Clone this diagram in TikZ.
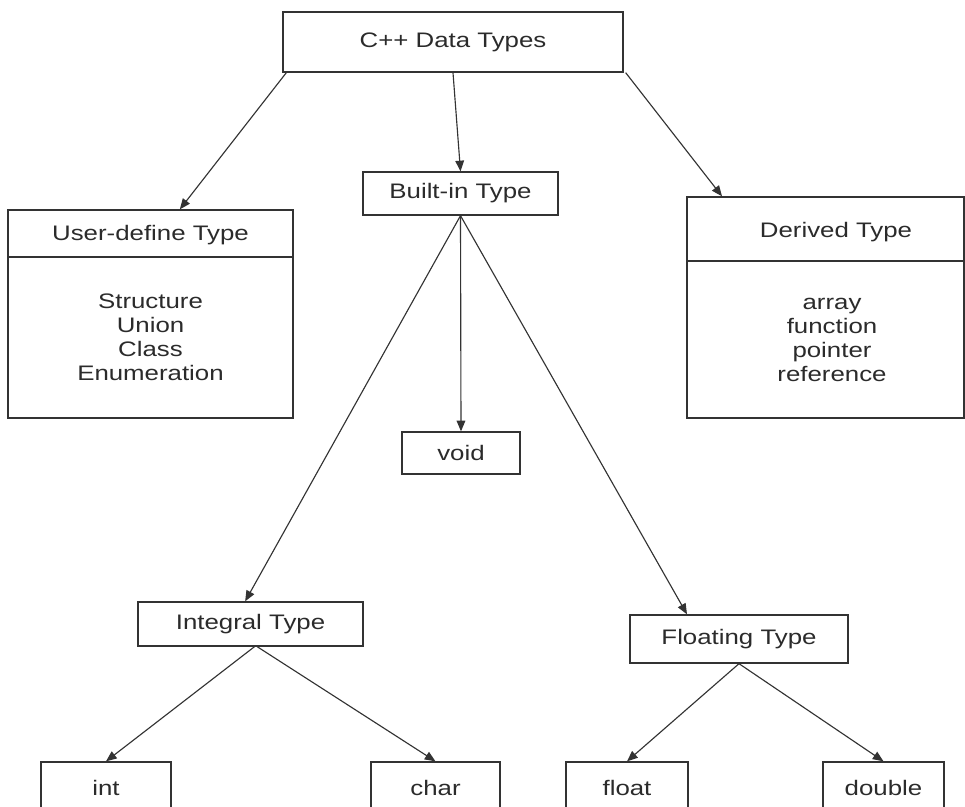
\documentclass[tikz,border=0pt]{standalone}
\usepackage{fontspec}
\setmainfont[FakeStretch=1.23]{Liberation Sans}
\usetikzlibrary{arrows.meta}
\definecolor{ln}{HTML}{333333}
\definecolor{tx}{HTML}{2B2B2B}
\begin{document}
\begin{tikzpicture}[x=0.75pt,y=-0.75pt,
  box/.style={draw=ln,line width=1pt,fill=white,inner sep=0pt,text=tx,
    font=\fontsize{15.75}{18}\selectfont},
  lbl/.style={inner sep=0pt,text=tx,align=center,font=\fontsize{15.75}{18}\selectfont},
  conn/.style={draw=ln,line width=0.85pt,-{Triangle[length=8pt,width=6.5pt]}}]
\clip (0,0) rectangle (965,807);
\fill[white] (0,0) rectangle (965,807);

% boxes
\node[box,minimum width=255pt,minimum height=45pt] (top) at (453,42) {C++ Data Types};
\node[box,minimum width=146.25pt,minimum height=32.25pt] (builtin) at (460.5,193.5) {Built-in Type};
\node[box,minimum width=213.75pt,minimum height=156pt] (user) at (150.5,314) {};
\node[box,minimum width=207.75pt,minimum height=165.75pt] (derived) at (825.5,307.5) {};
\node[box,minimum width=88.5pt,minimum height=31.5pt] (void) at (461,453) {void};
\node[box,minimum width=168.75pt,minimum height=33pt] (integral) at (250.5,624) {Integral Type};
\node[box,minimum width=163.5pt,minimum height=36pt] (floating) at (739,639) {Floating Type};
\node[box,minimum width=97.5pt,minimum height=39pt] (int) at (106,788) {int};
\node[box,minimum width=96.75pt,minimum height=39pt] (char) at (435.5,788) {char};
\node[box,minimum width=91.5pt,minimum height=39pt] (float) at (627,788) {float};
\node[box,minimum width=90.75pt,minimum height=39pt] (double) at (883.5,788) {double};

% compartments
\coordinate (ud) at (8,257);
\coordinate (dd) at (687,261);
\draw[ln,line width=1pt] (ud) -- (ud -| user.east);
\draw[ln,line width=1pt] (dd) -- (dd -| derived.east);
\node[lbl] (usert) at (150.5,235) {User-define Type};
\node[lbl] (userl) at (150.5,337.5) {Structure\\Union\\Class\\Enumeration};
\node[lbl] (derivt) at (836,232) {Derived Type};
\node[lbl] (derivl) at (832,340) {array\\function\\pointer\\reference};

% connectors
\draw[conn] (top.south) -- (builtin.north);
\draw[conn] ([xshift=3pt]top.south west) -- ([xshift=22pt]user.north);
\draw[conn] ([xshift=1.5pt]top.south east) -- ([xshift=-77.6pt]derived.north);
\draw[conn] (builtin.south) -- (void.north);
\draw[conn] (builtin.south) -- ([xshift=-4pt]integral.north);
\draw[conn] (builtin.south) -- ([xshift=-39pt]floating.north);
\draw[conn] ([xshift=3pt]integral.south) -- (int.north);
\draw[conn] ([xshift=5pt]integral.south) -- (char.north);
\draw[conn] (floating.south) -- (float.north);
\draw[conn] (floating.south) -- (double.north);
\end{tikzpicture}
\end{document}
